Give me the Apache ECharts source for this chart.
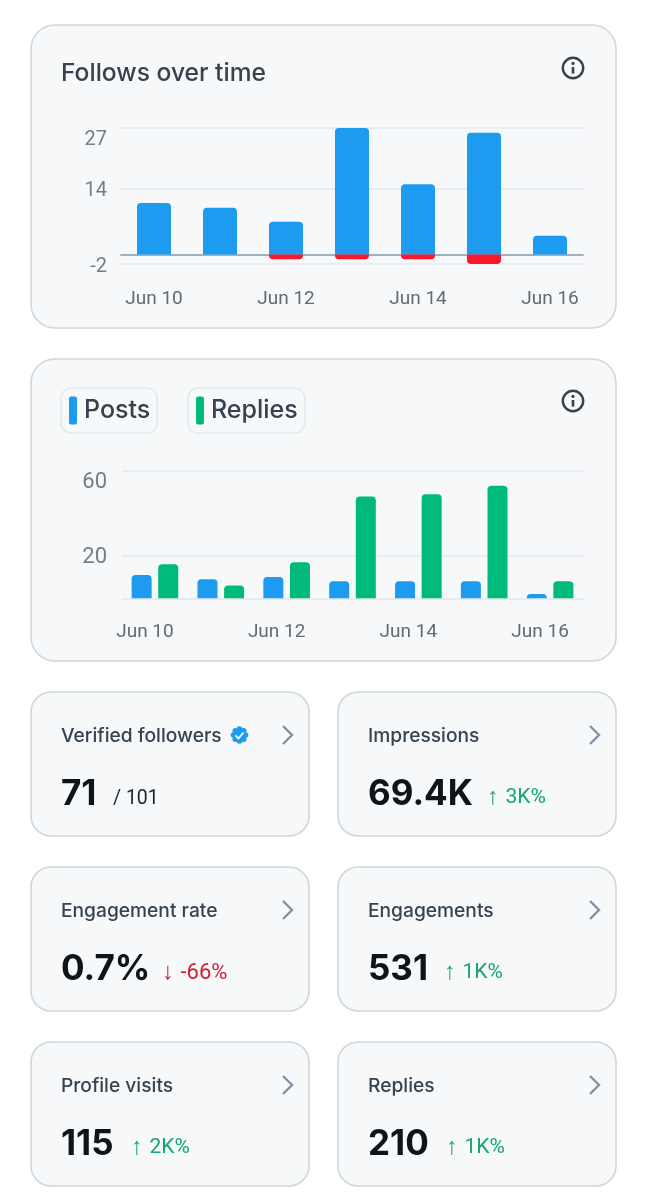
<!DOCTYPE html>
<html><head><meta charset="utf-8">
<style>html,body{margin:0;padding:0;background:#fff}#c{width:647px;height:1200px}</style>
<script src="https://cdn.jsdelivr.net/npm/echarts@6/dist/echarts.min.js"></script>
</head><body><div id="c"></div>
<script>
const days = ['Jun 10','Jun 11','Jun 12','Jun 13','Jun 14','Jun 15','Jun 16'];
const follows = [11,10,7,27,15,26,4];
const unfollows = [0,0,-1,-1,-1,-2,0];
const followTicks = [-2,14,27];
const posts = [11,9,10,8,8,8,2];
const replies = [16,6,17,48,49,53,8];
const postTicks = [0,20,60];
const postTickLabels = [20,60];
const metricNames = ['Verified followers','Impressions','Engagement rate','Engagements','Profile visits','Replies'];
const metricValues = ['71','69.4K','0.7%','531','115','210'];
const metricDeltas = ['/ 101','↑ 3K%','↓ -66%','↑ 1K%','↑ 2K%','↑ 1K%'];

const FONT='Inter', LABEL='Roboto';
const BLUE='#1d9bf0', GREEN='#00ba7c', RED='#f4192b';
const INK='#36434f', DARK='#0f1419', UP='#17a673', DOWN='#d0213a';
const FILL='#f6f8f9', EDGE='#cdd7dc', GRID='#e5eaee', TICK='#6f808e';

const smallCards=[[31,692],[338,692],[31,867],[338,867],[31,1042],[338,1042]];
const deltaOffsets=[82,149,131,106,100,108];
const g=[];
const card=(x,y,w,h,r)=>g.push({type:'rect',z:-10,silent:true,shape:{x,y,width:w,height:h,r},style:{fill:FILL,stroke:EDGE,lineWidth:1.6}});
const text=(x,y,t,font,fill,extra)=>g.push({type:'text',z:5,silent:true,x,y,style:Object.assign({text:t,font,fill,textVerticalAlign:'middle',textAlign:'left'},extra||{})});
const info=(cx,cy)=>{
  g.push({type:'circle',z:5,silent:true,shape:{cx,cy,r:10.2},style:{fill:'none',stroke:INK,lineWidth:2.4}});
  g.push({type:'circle',z:5,silent:true,shape:{cx,cy:cy-4.6,r:1.6},style:{fill:INK}});
  g.push({type:'line',z:5,silent:true,shape:{x1:cx,y1:cy-1,x2:cx,y2:cy+5.6},style:{stroke:INK,lineWidth:2.6}});
};
card(31,25,585,303,24); card(31,359,585,302,24);
text(61,74,'Follows over time','500 24.6px '+FONT,INK);
info(573,68); info(573,401);
smallCards.forEach((p,i)=>{
  const [x,y]=p;
  card(x,y,278,144,20);
  text(x+30,y+44,metricNames[i],'500 19.2px '+FONT,INK);
  g.push({type:'polyline',z:5,silent:true,shape:{points:[[x+252,y+34],[x+261,y+43],[x+252,y+52]]},style:{fill:'none',stroke:'#7f93a5',lineWidth:2.4}});
  text(x+30,y+102,metricValues[i],'700 35px '+FONT,DARK);
  const d=metricDeltas[i], dx=x+deltaOffsets[i];
  if(d[0]==='/'){
    text(dx,y+107,d,'400 19.5px '+LABEL,'#1b2530');
  } else {
    const col=d[0]==='↓'?DOWN:UP;
    text(dx,y+106,d[0],'400 24px '+LABEL,col);
    text(dx+18.5,y+106,d.slice(2),'400 '+(d[0]==='↓'?22:21)+'px '+LABEL,col);
  }
});
// verified badge
g.push({type:'circle',z:5,silent:true,shape:{cx:239.5,cy:735,r:7.2},style:{fill:BLUE}});
[0,1,2,3,4,5,6,7].forEach(k=>{
  const a=k*Math.PI/4;
  g.push({type:'circle',z:5,silent:true,shape:{cx:239.5+6*Math.cos(a),cy:735+6*Math.sin(a),r:2.8},style:{fill:BLUE}});
});
g.push({type:'polyline',z:6,silent:true,shape:{points:[[235.5,735.5],[238.5,738.5],[243.5,732.5]]},style:{fill:'none',stroke:'#fff',lineWidth:1.8}});

const chip=(name,left)=>({data:[{name,icon:'roundRect'}],left,top:388,orient:'horizontal',selectedMode:false,itemWidth:8,itemHeight:28,
  padding:[8.5,7,8.5,8],backgroundColor:'#f6f8f9',borderColor:'#e4e9ec',borderWidth:1.5,borderRadius:10,
  textStyle:{fontFamily:FONT,fontSize:25,fontWeight:500,color:INK,padding:[10,0,0,2]}});
const tickStyle=(size,p)=>({fontFamily:LABEL,fontSize:size,color:TICK,padding:[p,0,0,0]});

const ax={type:'category',data:days,axisTick:{show:false}};
const option={animation:false,
  graphic:{elements:g},
  legend:[chip('Posts',61),chip('Replies',188)],
  grid:[
    {left:121,right:64,top:128,height:136,containLabel:false},
    {left:122,right:64,top:471,height:127.3,containLabel:false}
  ],
  xAxis:[
    Object.assign({gridIndex:0},ax,{axisLine:{onZero:true,lineStyle:{color:'#9fb0bf',width:2}},
      axisLabel:{interval:1,margin:26,fontFamily:LABEL,fontSize:19,color:'#5f6b75',hideOverlap:false}}),
    Object.assign({gridIndex:1},ax,{axisLine:{lineStyle:{color:GRID,width:1.5}},
      axisLabel:{interval:1,margin:24,fontFamily:LABEL,fontSize:19,color:'#5f6b75',padding:[0,20,0,0]}})
  ],
  yAxis:[
    {gridIndex:0,type:'value',min:-2,max:27,
      axisLine:{show:false},axisTick:{show:false,customValues:followTicks},
      axisLabel:{customValues:followTicks,margin:14,fontFamily:LABEL,fontSize:20,color:TICK,verticalAlignMaxLabel:'top',verticalAlignMinLabel:'middle',
        formatter:v=>v<0?`{low|${v}}`:(v===14?`{mid|${v}}`:`{top|${v}}`),
        rich:{low:tickStyle(20,5),mid:tickStyle(20,4),top:tickStyle(20,2)}},
      splitLine:{lineStyle:{color:GRID,width:1.5}}},
    {gridIndex:1,type:'value',min:0,max:60,
      axisLine:{show:false},axisTick:{show:false,customValues:postTicks},
      axisLabel:{customValues:postTickLabels,margin:15,fontFamily:LABEL,fontSize:22,color:TICK,verticalAlignMaxLabel:'top',
        formatter:v=>v===20?`{mid|${v}}`:`{top|${v}}`,
        rich:{mid:tickStyle(22,4),top:tickStyle(22,0)}},
      splitLine:{lineStyle:{color:GRID,width:1.5}}}
  ],
  series:[
    {name:'Follows',type:'bar',xAxisIndex:0,yAxisIndex:0,stack:'f',barWidth:34,data:follows,itemStyle:{color:BLUE,borderRadius:[4,4,0,0]}},
    {name:'Unfollows',type:'bar',xAxisIndex:0,yAxisIndex:0,stack:'f',barWidth:34,data:unfollows,itemStyle:{color:RED,borderRadius:[0,0,4,4]}},
    {name:'Posts',type:'bar',xAxisIndex:1,yAxisIndex:1,barWidth:20,barGap:'33%',data:posts,itemStyle:{color:BLUE,borderRadius:[4,4,0,0]}},
    {name:'Replies',type:'bar',xAxisIndex:1,yAxisIndex:1,barWidth:20,barGap:'33%',data:replies,itemStyle:{color:GREEN,borderRadius:[4,4,0,0]}}
  ]
};
echarts.init(document.getElementById('c'),null,{renderer:'canvas'}).setOption(option);
</script></body></html>
